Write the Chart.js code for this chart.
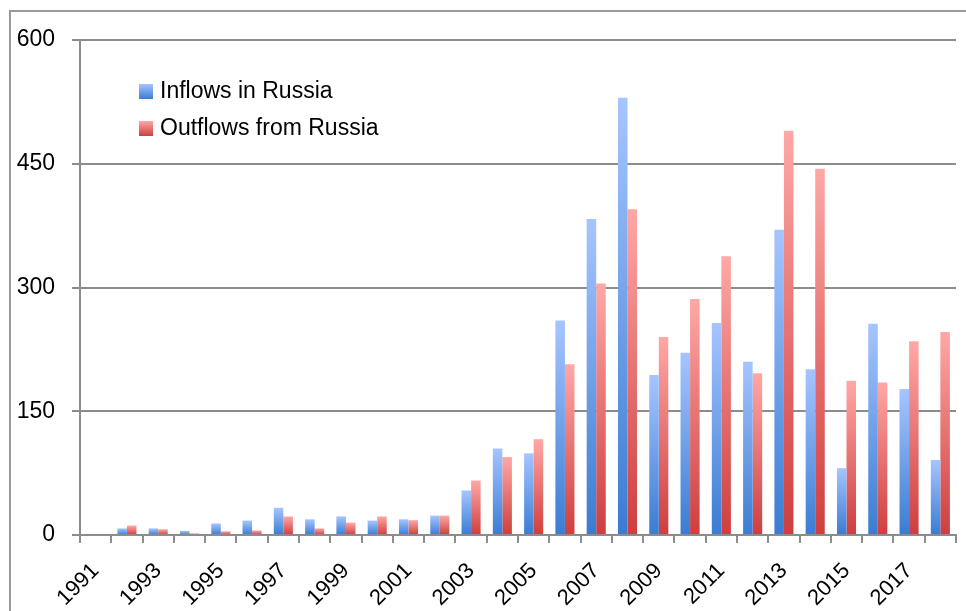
<!DOCTYPE html>
<html>
<head>
<meta charset="utf-8">
<script src="https://cdn.jsdelivr.net/npm/chart.js@4.4.1/dist/chart.umd.min.js"></script>
<style>
  html, body { margin: 0; padding: 0; background: #fff; }
  #wrap { width: 966px; height: 611px; position: relative; }
</style>
</head>
<body>
<div id="wrap"><canvas id="c" width="966" height="611"></canvas></div>
<script>
const years = [1991,1992,1993,1994,1995,1996,1997,1998,1999,2000,2001,2002,2003,2004,2005,2006,2007,2008,2009,2010,2011,2012,2013,2014,2015,2016,2017,2018];
const inflows = [0, 8, 8, 5, 14, 17.5, 33, 19, 22.5, 17.5, 19, 23.5, 54, 105, 99, 260, 383, 530, 194, 221, 257, 210, 370, 201, 81, 256, 177, 91];
const outflows = [0, 11.5, 7, 2, 4.5, 5.5, 22.5, 8, 15, 22.5, 18, 23.5, 66, 94.5, 116, 207, 305, 395, 240, 286, 338, 196, 490, 444, 187, 185, 235, 246];
const seriesNames = ['Inflows in Russia', 'Outflows from Russia'];
const yTicks = [0, 150, 300, 450, 600];

const FONT = "'Liberation Sans', Arial, sans-serif";
const GRID = '#8c8c8c';
const BLUE = ['rgb(166,197,255)', 'rgb(58,124,210)'];
const RED = ['rgb(255,168,166)', 'rgb(206,62,62)'];

function barGradient(cols) {
  return function (ctx) {
    const chart = ctx.chart;
    if (!chart.chartArea || ctx.type !== 'data') return cols[1];
    const ys = chart.scales.y;
    const top = ys.getPixelForValue(ctx.raw || 0);
    const bot = ys.getPixelForValue(0);
    if (bot - top < 1) return cols[1];
    const g = chart.ctx.createLinearGradient(0, top, 0, bot);
    g.addColorStop(0, cols[0]);
    g.addColorStop(1, cols[1]);
    return g;
  };
}

const frame = {
  id: 'frame',
  beforeDraw(chart) {
    const c = chart.ctx;
    c.save();
    c.fillStyle = '#fff';
    c.fillRect(0, 0, chart.width, chart.height);
    c.strokeStyle = '#9a9a9a';
    c.lineWidth = 2;
    c.strokeRect(10, 11, 2000, 2000);
    c.restore();
  }
};

const inLegend = {
  id: 'inLegend',
  afterDraw(chart) {
    const c = chart.ctx;
    c.save();
    const items = [
      { label: chart.data.datasets[0].label, cols: BLUE, y: 84 },
      { label: chart.data.datasets[1].label, cols: RED, y: 121 }
    ];
    items.forEach(it => {
      const g = c.createLinearGradient(0, it.y, 0, it.y + 15);
      g.addColorStop(0, it.cols[0]);
      g.addColorStop(1, it.cols[1]);
      c.fillStyle = g;
      c.fillRect(139, it.y, 14, 15);
      c.fillStyle = '#000';
      c.font = '23px ' + FONT;
      c.textBaseline = 'middle';
      c.textAlign = 'left';
      c.fillText(it.label, 160, it.y + 8);
    });
    c.restore();
  }
};

new Chart(document.getElementById('c'), {
  type: 'bar',
  data: {
    labels: years.map(String),
    datasets: [
      { label: seriesNames[0], data: inflows, backgroundColor: barGradient(BLUE), borderWidth: 0 },
      { label: seriesNames[1], data: outflows, backgroundColor: barGradient(RED), borderWidth: 0 }
    ]
  },
  options: {
    responsive: false,
    animation: false,
    devicePixelRatio: 1,
    layout: { padding: { left: 0, right: 10, top: 40, bottom: 0 } },
    datasets: { bar: { categoryPercentage: 0.61, barPercentage: 1.0 } },
    plugins: {
      legend: { display: false },
      tooltip: { enabled: false }
    },
    scales: {
      x: {
        grid: { offset: true, drawOnChartArea: false, drawTicks: true, tickLength: 8, color: GRID, lineWidth: 2 },
        border: { display: true, color: GRID, width: 2 },
        ticks: {
          autoSkip: false,
          maxRotation: 45,
          minRotation: 45,
          padding: 15,
          color: '#000',
          font: { family: FONT, size: 22 },
          callback: function (val, idx) { return idx % 2 === 0 ? this.getLabelForValue(val) : ''; }
        },
        afterFit(scale) { scale.height = 76; scale.paddingLeft = 0; scale.paddingRight = 0; }
      },
      y: {
        min: 0,
        max: 600,
        afterBuildTicks(scale) { scale.ticks = yTicks.map(v => ({ value: v })); },
        grid: { drawTicks: true, tickLength: 8, color: GRID, lineWidth: 2, tickColor: GRID },
        border: { display: true, color: GRID, width: 2 },
        ticks: {
          padding: 17,
          color: '#000',
          font: { family: FONT, size: 23 }
        },
        afterFit(scale) { scale.width = 80; scale.paddingTop = 0; scale.paddingBottom = 0; }
      }
    }
  },
  plugins: [frame, inLegend]
});
</script>
</body>
</html>
